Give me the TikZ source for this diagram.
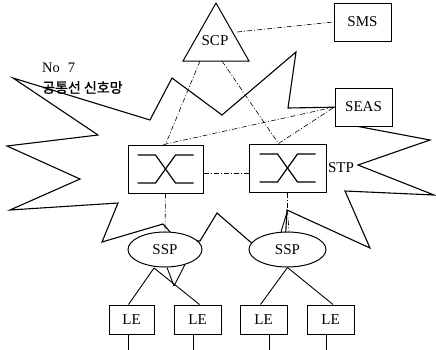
\documentclass[tikz,border=0pt]{standalone}
\usepackage{fontspec}
\setmainfont{Liberation Serif}
\newfontfamily\krfont[FakeBold=1.2]{Noto Sans CJK KR}
\usetikzlibrary{shapes.geometric,calc}
\newcommand\xsym[1]{%
  \draw[line width=1.2pt] ($(#1)+(-28,-14)$) -- ++(18,0) -- ++(20,28) -- ++(18,0);
  \draw[line width=1.2pt] ($(#1)+(-28,14)$) -- ++(18,0) -- ++(20,-28) -- ++(18,0);}
\begin{document}
\begin{tikzpicture}[x=1pt,y=-1pt,
  lbl/.style={font=\fontsize{15}{16}\selectfont},
  box/.style={draw,rectangle,line width=1pt,fill=white,inner sep=0pt,lbl},
  sspnode/.style={draw,ellipse,line width=1pt,fill=white,inner sep=0pt,minimum height=35pt,lbl},
  link/.style={line width=0.6pt,dash pattern=on 5pt off 2pt on 1pt off 2pt},
  wire/.style={line width=0.9pt},
  starline/.style={line width=1.1pt,line join=miter}]
\useasboundingbox (0,0) rectangle (436,349);

% star-shaped signalling network outline
\draw[starline] (13,78) -- (150,120) -- (172,78) -- (222,115) -- (296,52) -- (288,108)
  -- (345,107) -- (345,124) -- (430,140) -- (358,165) -- (434,195) -- (345,191)
  -- (370,248) -- (287,210) -- (285,245) -- (255,246) -- (217,213) -- (200,241)
  -- (178,241) -- (163,224) -- (102,242) -- (118,203) -- (10,210) -- (80,179)
  -- (7,146) -- (98,135) -- cycle;

% SCP triangle
\draw[line width=1pt,fill=white] (216,3) -- (249,61) -- (183,61) -- cycle;
\node[lbl] (scp) at (215,41) {SCP};
\coordinate (scpS) at (237,32);
\coordinate (scpL) at (200,61);
\coordinate (scpR) at (222,61);

% nodes
\node[box,minimum width=57pt,minimum height=38pt] (sms)  at (362.5,22) {SMS};
\node[box,minimum width=57pt,minimum height=38pt] (seas) at (363.5,107) {SEAS};
\node[box,minimum width=75pt,minimum height=48pt] (stpL) at (165.5,169) {};
\node[box,minimum width=77pt,minimum height=48pt] (stpR) at (287.5,168) {};
\xsym{stpL.center}
\xsym{stpR.center}
\node[lbl] (stplbl) at (341,168) {STP};
\node[sspnode,minimum width=74pt] (sspL) at (165,249.5) {SSP};
\node[sspnode,minimum width=77pt] (sspR) at (287.5,249.5) {SSP};
\node[box,minimum width=45pt,minimum height=29pt] (le1) at (131.5,319.5) {LE};
\node[box,minimum width=47pt,minimum height=29pt] (le2) at (197.5,319.5) {LE};
\node[box,minimum width=47pt,minimum height=29pt] (le3) at (263.5,319.5) {LE};
\node[box,minimum width=47pt,minimum height=29pt] (le4) at (330.5,319.5) {LE};

% labels
\node[anchor=west,inner sep=0pt,font=\fontsize{14.5}{16}\selectfont] (no7) at (42,68) {No\hspace{0.55em}7};
\node[anchor=west,inner sep=0pt,font=\krfont\fontsize{14}{16}\selectfont] (kr) at (42,87.5) {공통선 신호망};

% signalling links (dash-dot)
\draw[link] (scpS) -- (sms.west);
\draw[link] (scpL) -- (stpL.north);
\coordinate (stpRa) at ($(stpR.north)+(-9,0)$);
\draw[link] (scpR) -- (stpRa);
\draw[link] ($(stpL.north)+(-2,0)$) -- (seas.west);
\draw[link] (stpRa) -- (seas.west);
\draw[link] ($(stpL.east)+(0,4)$) -- ($(stpR.west)+(0,5)$);
\draw[link] (stpL.south) -- (sspL.north);
\coordinate (stpRj) at ($(stpR.south)+(0,18)$);
\draw[link] (stpR.south) -- (stpRj);
\draw[link] (stpRj) -- ($(sspR.north)+(1.5,0)$);
\draw[wire] (stpRj) -- ($(sspR.north)+(-6.5,0.5)$);

% access wires
\coordinate (sL) at ($(sspL.south)+(-11,0.5)$);
\coordinate (sLv) at (174,286);
\draw[wire] (sL) -- ($(le1.north)+(-3,0)$);
\draw[wire] (sL) -- ($(le2.north)+(2,0)$);
\draw[wire] ($(sspL.south)+(2,0)$) -- (sLv);
\draw[wire] ($(sspL.south)+(20,-3)$) -- (sLv);
\draw[wire] (sspR.south) -- ($(le3.north)+(-3,0)$);
\draw[wire] (sspR.south) -- ($(le4.north)+(2.5,0)$);
\draw[wire] ($(le1.south)+(-3,0)$) -- ++(0,15);
\draw[wire] ($(le2.south)+(-4.5,0)$) -- ++(0,15);
\draw[wire] ($(le3.south)+(5.5,0)$) -- ++(0,15);
\draw[wire] ($(le4.south)+(-4.5,0)$) -- ++(0,15);
\end{tikzpicture}
\end{document}
